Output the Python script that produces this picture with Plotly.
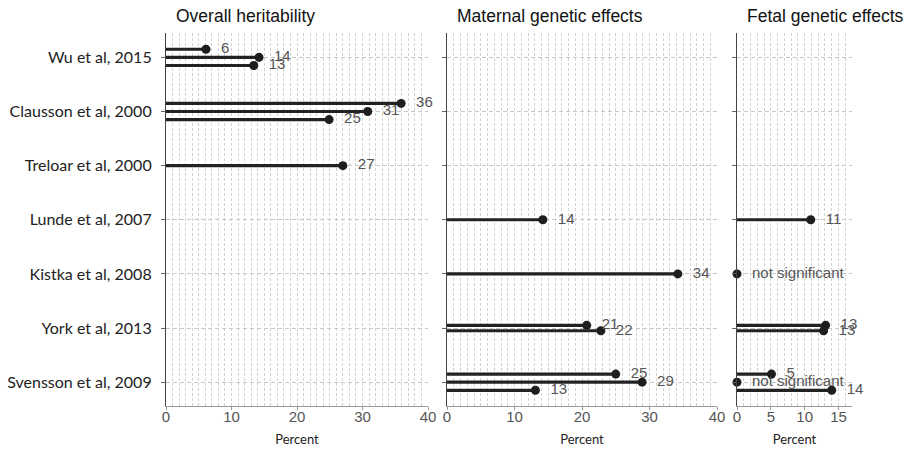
import plotly.graph_objects as go

# ---- data ----
studies = ["Wu et al, 2015", "Clausson et al, 2000", "Treloar et al, 2000",
           "Lunde et al, 2007", "Kistka et al, 2008", "York et al, 2013",
           "Svensson et al, 2009"]

panel_titles = ["Overall heritability", "Maternal genetic effects", "Fetal genetic effects"]

overall_study = ["Wu et al, 2015", "Wu et al, 2015", "Wu et al, 2015",
                 "Clausson et al, 2000", "Clausson et al, 2000", "Clausson et al, 2000",
                 "Treloar et al, 2000"]
overall_value = [6.1, 14.2, 13.4, 35.9, 30.8, 24.9, 27.0]
overall_label = ["6", "14", "13", "36", "31", "25", "27"]

maternal_study = ["Lunde et al, 2007", "Kistka et al, 2008", "York et al, 2013", "York et al, 2013",
                  "Svensson et al, 2009", "Svensson et al, 2009", "Svensson et al, 2009"]
maternal_value = [14.2, 34.2, 20.7, 22.8, 25.0, 28.9, 13.1]
maternal_label = ["14", "34", "21", "22", "25", "29", "13"]

fetal_study = ["Lunde et al, 2007", "Kistka et al, 2008", "York et al, 2013", "York et al, 2013",
               "Svensson et al, 2009", "Svensson et al, 2009", "Svensson et al, 2009"]
fetal_value = [10.9, 0, 13.1, 12.8, 5.1, 0, 14.0]
fetal_label = ["11", "not significant", "13", "13", "5", "not significant", "14"]

x_ranges = [[0, 40], [0, 40], [0, 17]]
x_tick_step = [10, 10, 5]

# ---- layout geometry ----
W, H = 907, 450
L, R, T, B = 166, 55, 33, 44
pw = W - L - R
panel_px = [(166, 428), (447, 717), (737, 852)]
domains = [[(a - L) / pw, (b - L) / pw] for a, b in panel_px]

ypos = {s: len(studies) - i for i, s in enumerate(studies)}


def dodge(study_list):
    counts = {}
    for s in study_list:
        counts[s] = counts.get(s, 0) + 1
    seen = {}
    ys = []
    for s in study_list:
        n = counts[s]
        k = seen.get(s, 0)
        seen[s] = k + 1
        step = 0.15 if n >= 3 else 0.1
        off = (n - 1) / 2 * step - k * step if n > 1 else 0
        ys.append(ypos[s] + off)
    return ys


fig = go.Figure()
panels = [(overall_study, overall_value, overall_label),
          (maternal_study, maternal_value, maternal_label),
          (fetal_study, fetal_value, fetal_label)]

for i, (st, vals, labs) in enumerate(panels):
    xa = "x" if i == 0 else f"x{i+1}"
    ya = "y" if i == 0 else f"y{i+1}"
    ys = dodge(st)
    lx, ly = [], []
    for v, y in zip(vals, ys):
        if v > 0:
            lx += [0, v, None]
            ly += [y, y, None]
    fig.add_trace(go.Scatter(x=lx, y=ly, mode="lines", xaxis=xa, yaxis=ya,
                             line=dict(color="#222222", width=3.2), hoverinfo="skip",
                             showlegend=False, cliponaxis=False))
    fig.add_trace(go.Scatter(x=vals, y=ys, mode="markers+text", xaxis=xa, yaxis=ya,
                             marker=dict(color="#1e1e1e", size=9),
                             text=["  " + t for t in labs], textposition="middle right",
                             textfont=dict(family="Liberation Sans, Arial", size=15, color="#555555"),
                             showlegend=False, cliponaxis=False))

for i in range(3):
    xk = "xaxis" if i == 0 else f"xaxis{i+1}"
    yk = "yaxis" if i == 0 else f"yaxis{i+1}"
    fig.layout[xk] = dict(
        domain=domains[i], range=x_ranges[i], anchor="y" if i == 0 else f"y{i+1}",
        dtick=x_tick_step[i], tick0=0, showgrid=True, gridcolor="#d2d2d2", griddash="3px,2px",
        gridwidth=1, minor=dict(dtick=1, showgrid=True, gridcolor="#d2d2d2", griddash="3px,2px", gridwidth=1),
        showline=True, linecolor="#9a9a9a", linewidth=1, ticks="outside", ticklen=3, tickcolor="#9a9a9a",
        tickfont=dict(family="Liberation Sans, Arial", size=15, color="#555555"),
        ticklabelstandoff=-6,
        zeroline=False, automargin=False,
        title=dict(text="Percent", font=dict(family="Lato, Open Sans, Arial", size=13, color="#222222"), standoff=10),
    )
    fig.layout[yk] = dict(
        domain=[0, 1], range=[0.56, 7.45], anchor="x" if i == 0 else f"x{i+1}",
        tickvals=[ypos[s] for s in studies], ticktext=studies if i == 0 else [""] * len(studies),
        showticklabels=(i == 0),
        showgrid=True, gridcolor="#c8c8c8", griddash="4px,3px", gridwidth=1,
        showline=True, linecolor="#444444", linewidth=1.2, ticks="outside", ticklen=4, tickcolor="#666666",
        tickfont=dict(family="Lato, Open Sans, Arial", size=16, color="#222222"),
        ticklabelstandoff=6,
        zeroline=False, automargin=False,
    )

for i, t in enumerate(panel_titles):
    fig.add_annotation(text=t, xref="paper", yref="paper", x=domains[i][0] + 8 / pw, y=1,
                       xanchor="left", yanchor="bottom", yshift=5, showarrow=False,
                       font=dict(family="Liberation Sans, Arial", size=17.5, color="#111111"))

fig.update_layout(width=W, height=H, margin=dict(l=L, r=R, t=T, b=B),
                  plot_bgcolor="white", paper_bgcolor="white")

fig.write_html("out.html")
